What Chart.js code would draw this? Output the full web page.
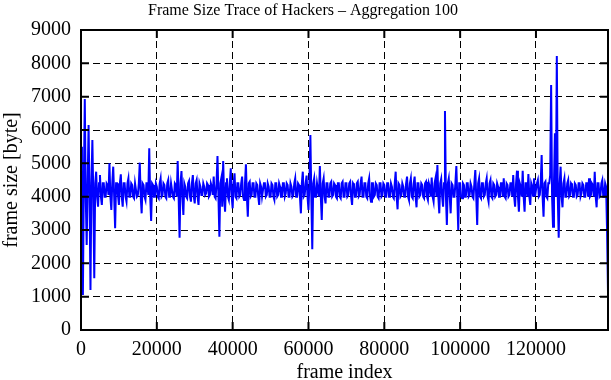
<!DOCTYPE html>
<html>
<head>
<meta charset="utf-8">
<script src="https://cdn.jsdelivr.net/npm/chart.js@4/dist/chart.umd.min.js"></script>
<style>
  html, body { margin: 0; padding: 0; background: #fff; }
  #wrap { width: 611px; height: 380px; }
</style>
</head>
<body>
<div id="wrap"><canvas id="trace" width="611" height="380"></canvas></div>
<script>
// frame size trace, one value every 250 frames
const chartTitle = 'Frame Size Trace of Hackers \u2013 Aggregation 100';
const frameStep = 250;
const xMax = 139000;
const xTicks = [0, 20000, 40000, 60000, 80000, 100000, 120000];
const yTicks = [0, 1000, 2000, 3000, 4000, 5000, 6000, 7000, 8000, 9000];

// 20 values per row = 5000 frames per row
const frameSizes = [
  5500, 4000, 1050, 4450, 6930, 4000, 2550, 4400, 6150, 4050, 1200, 4400, 5700, 4000, 1550, 4400, 4750, 4000, 3700, 4400,
  4650, 4000, 3750, 4400, 4400, 4000, 4000, 4400, 4350, 4050, 5000, 4000, 3600, 4400, 4900, 4000, 3050, 4400, 4400, 4050,
  3750, 4400, 4670, 4000, 3700, 4400, 4400, 4000, 3850, 4400, 4550, 4000, 4000, 4400, 4350, 4000, 3950, 4400, 4400, 4000,
  4050, 4400, 5020, 4000, 3500, 4400, 4350, 4000, 3900, 4400, 4400, 4050, 5450, 4000, 3270, 4400, 4350, 4000, 4000, 4400,
  4300, 4000, 3950, 4400, 4550, 4000, 4050, 4400, 4350, 4000, 3950, 4400, 4500, 4000, 4000, 4400, 4400, 4000, 3950, 4400,
  4350, 4000, 5070, 4000, 2770, 4400, 4770, 4000, 3450, 4400, 4300, 4000, 3950, 4400, 4470, 4000, 3850, 4400, 4650, 4000,
  3800, 4400, 4500, 4000, 3750, 4400, 4300, 4050, 4050, 4400, 4300, 4050, 4100, 4400, 4350, 4000, 4050, 4400, 4300, 4050,
  4600, 4000, 3950, 4400, 5220, 4000, 2800, 4400, 4550, 3700, 5070, 4000, 3550, 4400, 4550, 4000, 3900, 4400, 4850, 4000,
  3650, 4400, 4700, 4000, 3950, 4400, 4400, 4000, 4050, 4400, 4600, 4000, 3900, 4400, 4970, 4000, 3400, 4400, 4450, 4000,
  4050, 4400, 4400, 4000, 4000, 4400, 4350, 4000, 3750, 4400, 4300, 4000, 4000, 4400, 4400, 4000, 4050, 4400, 4300, 4000,
  4000, 4400, 4350, 4000, 3900, 4400, 4400, 4000, 4050, 4400, 4300, 4000, 4000, 4400, 4400, 4000, 4100, 4400, 4350, 4000,
  4000, 4400, 4300, 4000, 4050, 4400, 4550, 4000, 4000, 4400, 4350, 4000, 3500, 4400, 4750, 4000, 4050, 4400, 4630, 4000,
  3600, 4400, 5850, 4000, 2420, 4400, 4550, 4000, 4000, 4400, 4400, 4000, 4920, 4000, 3300, 4400, 4550, 4000, 3800, 4400,
  4400, 4000, 4000, 4400, 4450, 4000, 4050, 4400, 4350, 4000, 3950, 4400, 4400, 4000, 3950, 4400, 4450, 4000, 4000, 4400,
  4400, 4000, 4050, 4400, 4450, 4000, 3750, 4400, 4350, 4000, 4000, 4400, 4450, 4000, 4050, 4400, 4600, 4000, 4000, 4400,
  4400, 4000, 3950, 4400, 4550, 4000, 3850, 4400, 4400, 4000, 4050, 4400, 4350, 4000, 3950, 4400, 4400, 4000, 4050, 4400,
  4350, 4000, 4000, 4400, 4400, 4000, 4050, 4400, 4300, 4000, 3950, 4400, 4750, 4000, 3620, 4400, 4350, 4000, 4050, 4400,
  4300, 4000, 4000, 4400, 4600, 4000, 3900, 4400, 4550, 4000, 3950, 4400, 4600, 4000, 3680, 4400, 4400, 4000, 4050, 4400,
  4350, 4000, 3950, 4400, 4450, 4000, 3900, 4400, 4300, 4000, 4570, 4000, 3850, 4400, 4550, 4000, 4950, 4000, 3500, 4400,
  4530, 4000, 3700, 4400, 6570, 4000, 3150, 4400, 4550, 4000, 3500, 4400, 4350, 4000, 4000, 4400, 4920, 4000, 3000, 4400,
  4400, 4000, 3950, 4400, 4350, 4000, 4000, 4400, 4400, 4000, 4050, 4400, 4300, 4000, 3950, 4400, 4800, 4000, 3150, 4400,
  4550, 4000, 3950, 4400, 4400, 4000, 4050, 4400, 4550, 4000, 3850, 4400, 4500, 4000, 3950, 4400, 4350, 4000, 4050, 4400,
  4300, 4000, 4000, 4400, 4400, 4000, 4550, 4000, 3950, 4400, 4350, 4000, 4050, 4400, 4400, 4000, 4650, 4000, 3700, 4400,
  4780, 4000, 3550, 4400, 4300, 4000, 4780, 4000, 3550, 4400, 4400, 4000, 4680, 4000, 3750, 4400, 4300, 4000, 4550, 4000,
  4000, 4400, 4500, 4000, 4050, 4400, 5250, 4000, 3400, 4400, 4450, 4000, 3950, 4400, 4400, 4650, 7350, 4000, 3100, 4400,
  5900, 4000, 8220, 4000, 2770, 4400, 4900, 4000, 3680, 4400, 4550, 4000, 4000, 4400, 4500, 4000, 4050, 4400, 4350, 4000,
  4000, 4400, 4350, 4000, 4050, 4400, 4400, 4000, 4100, 4400, 4350, 4000, 4000, 4400, 4400, 4000, 4550, 4000, 4050, 4400,
  4350, 4000, 4750, 4000, 3680, 4400, 4400, 4000, 4050, 4400, 4500, 4000, 4000, 4400, 4300, 3000, 1150
];

const points = frameSizes.map((v, i) => ({ x: i * frameStep, y: v }));

const fontFamily = "'Liberation Serif', 'DejaVu Serif', serif";
const serif = { family: fontFamily, size: 20 };

// box round the plot, inner ticks on all four sides, title
const framePlugin = {
  id: 'gnuplotFrame',
  afterDraw(chart) {
    const { ctx, chartArea: { left, top, right, bottom }, scales: { x, y } } = chart;
    ctx.save();
    ctx.strokeStyle = '#000';
    ctx.lineWidth = 2;
    ctx.setLineDash([]);
    ctx.strokeRect(left, top, right - left, bottom - top);
    ctx.beginPath();
    xTicks.forEach(v => {
      const px = x.getPixelForValue(v);
      ctx.moveTo(px, bottom); ctx.lineTo(px, bottom - 8);
      ctx.moveTo(px, top); ctx.lineTo(px, top + 8);
    });
    yTicks.forEach(v => {
      const py = y.getPixelForValue(v);
      ctx.moveTo(left, py); ctx.lineTo(left + 8, py);
      ctx.moveTo(right, py); ctx.lineTo(right - 8, py);
    });
    ctx.stroke();
    ctx.fillStyle = '#000';
    ctx.font = `16px ${fontFamily}`;
    ctx.textAlign = 'center';
    ctx.textBaseline = 'middle';
    ctx.fillText(chartTitle, 303, 11);
    ctx.restore();
  }
};

new Chart(document.getElementById('trace'), {
  type: 'line',
  data: {
    datasets: [{
      data: points,
      borderColor: '#0000ff',
      borderWidth: 2,
      pointRadius: 0,
      tension: 0,
      fill: false
    }]
  },
  options: {
    responsive: false,
    animation: false,
    parsing: false,
    normalized: true,
    layout: { padding: { top: 30, right: 3, left: 0, bottom: 0 } },
    plugins: {
      legend: { display: false },
      tooltip: { enabled: false },
      title: { display: false }
    },
    scales: {
      x: {
        type: 'linear',
        min: 0,
        max: xMax,
        afterBuildTicks: s => { s.ticks = xTicks.map(v => ({ value: v })); },
        afterFit: s => { s.height = 50; },
        ticks: { color: '#000', font: serif, padding: 8, maxRotation: 0, autoSkip: false, callback: v => String(v) },
        grid: { color: '#000', lineWidth: 1, drawTicks: false },
        border: { display: true, color: '#000', width: 2, dash: [7, 4] },
        title: { display: true, text: 'frame index', color: '#000', font: serif, padding: { top: 0, bottom: -5 } }
      },
      y: {
        min: 0,
        max: 9000,
        afterBuildTicks: s => { s.ticks = yTicks.map(v => ({ value: v })); },
        afterFit: s => { s.width = 81; },
        ticks: { color: '#000', font: serif, padding: 10, callback: v => String(v) },
        grid: { color: '#000', lineWidth: 1, drawTicks: false },
        border: { display: true, color: '#000', width: 2, dash: [7, 4] },
        title: { display: true, text: 'frame size [byte]', color: '#000', font: serif, padding: 0 }
      }
    }
  },
  plugins: [framePlugin]
});
</script>
</body>
</html>
